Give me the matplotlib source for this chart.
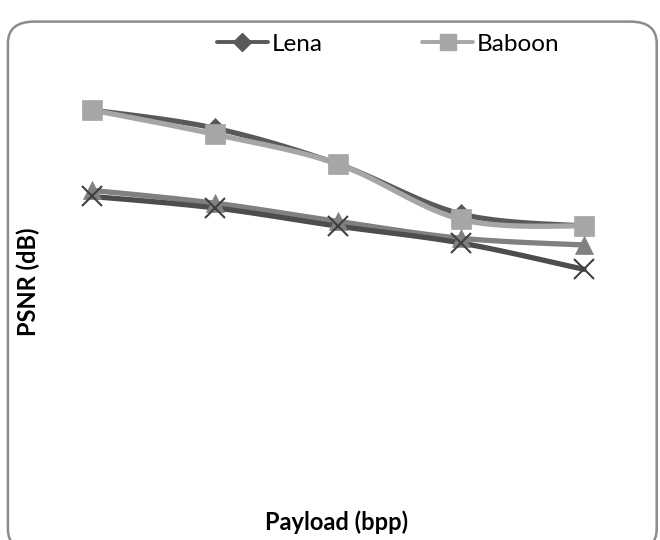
import matplotlib.pyplot as plt
import numpy as np
from matplotlib.patches import FancyBboxPatch

plt.rcParams['font.family'] = ['Lato', 'DejaVu Sans']

payload = [0.1, 0.2, 0.3, 0.4, 0.5]
lena = [54.1, 51.4, 46.1, 38.7, 36.9]
baboon = [54.1, 50.5, 46.1, 37.9, 36.9]
series3 = [42.2, 40.3, 37.6, 35.1, 34.1]
series4 = [41.3, 39.6, 36.9, 34.4, 30.5]


def smooth(x, y, n=30):
    # catmull-rom style smoothing, like excel "smoothed line"
    x = np.asarray(x, float)
    y = np.asarray(y, float)
    px = np.concatenate([[x[0]], x, [x[-1]]])
    py = np.concatenate([[y[0]], y, [y[-1]]])
    xs, ys = [], []
    t = np.linspace(0, 1, n)
    for i in range(1, len(px) - 2):
        for p, out in ((px, xs), (py, ys)):
            p0, p1, p2, p3 = p[i - 1], p[i], p[i + 1], p[i + 2]
            c1 = p1 + (p2 - p0) / 6
            c2 = p2 - (p3 - p1) / 6
            out.extend((1 - t) ** 3 * p1 + 3 * (1 - t) ** 2 * t * c1
                       + 3 * (1 - t) * t ** 2 * c2 + t ** 3 * p2)
    return xs, ys


fig = plt.figure(figsize=(6.6, 5.4), dpi=100)
border = FancyBboxPatch((0.012, -0.02), 0.983, 0.98, transform=fig.transFigure,
                        boxstyle="round,pad=0,rounding_size=0.04",
                        facecolor='white', edgecolor='#8c8c8c', linewidth=1.8,
                        zorder=-5)
fig.patches.append(border)

ax = fig.add_axes([0.046, 0.12, 0.932, 0.75])
ax.set_zorder(2)
x = np.arange(1, len(payload) + 1)

styles = [
    (lena, 'Lena', '#595959', 'D', 10, '#595959', 9),
    (baboon, 'Baboon', '#a6a6a6', 's', 14.5, '#a6a6a6', 12),
    (series3, 'Series3', '#808080', '^', 13, '#808080', 10),
    (series4, 'Series4', '#4d4d4d', 'x', 14, '#404040', 10),
]
handles = []
for vals, name, col, mk, ms, mcol, lms in styles:
    sx, sy = smooth(x, vals)
    ax.plot(sx, sy, color=col, linewidth=3.8, solid_capstyle='round', zorder=2)
    ax.plot(x, vals, linestyle='none', marker=mk, markersize=ms,
            color=mcol, markeredgewidth=1.5 if mk == 'x' else 0.5, zorder=3)
    h, = ax.plot([], [], color=col, linewidth=2.8, marker=mk, markersize=lms,
                 markeredgecolor=mcol, markerfacecolor=mcol, label=name,
                 solid_capstyle='round')
    handles.append(h)

ax.set_xlim(0.5, 5.5)
ax.set_ylim(0, 60)
ax.set_xticks([])
ax.set_yticks([])
for s in ax.spines.values():
    s.set_visible(False)
ax.patch.set_alpha(0)

fig.text(0.51, 0.033, 'Payload (bpp)', ha='center', va='center',
         fontsize=17, fontweight='bold')
fig.text(0.043, 0.478, 'PSNR (dB)', ha='center', va='center', rotation=90,
         fontsize=17, fontweight='bold')

fig.legend(handles=handles[:2], loc='center', bbox_to_anchor=(0.588, 0.918),
           ncol=2, frameon=False, fontsize=17.5, handlelength=2.1,
           columnspacing=4.1, handletextpad=0.15)

fig.savefig('out.png', dpi=100)
